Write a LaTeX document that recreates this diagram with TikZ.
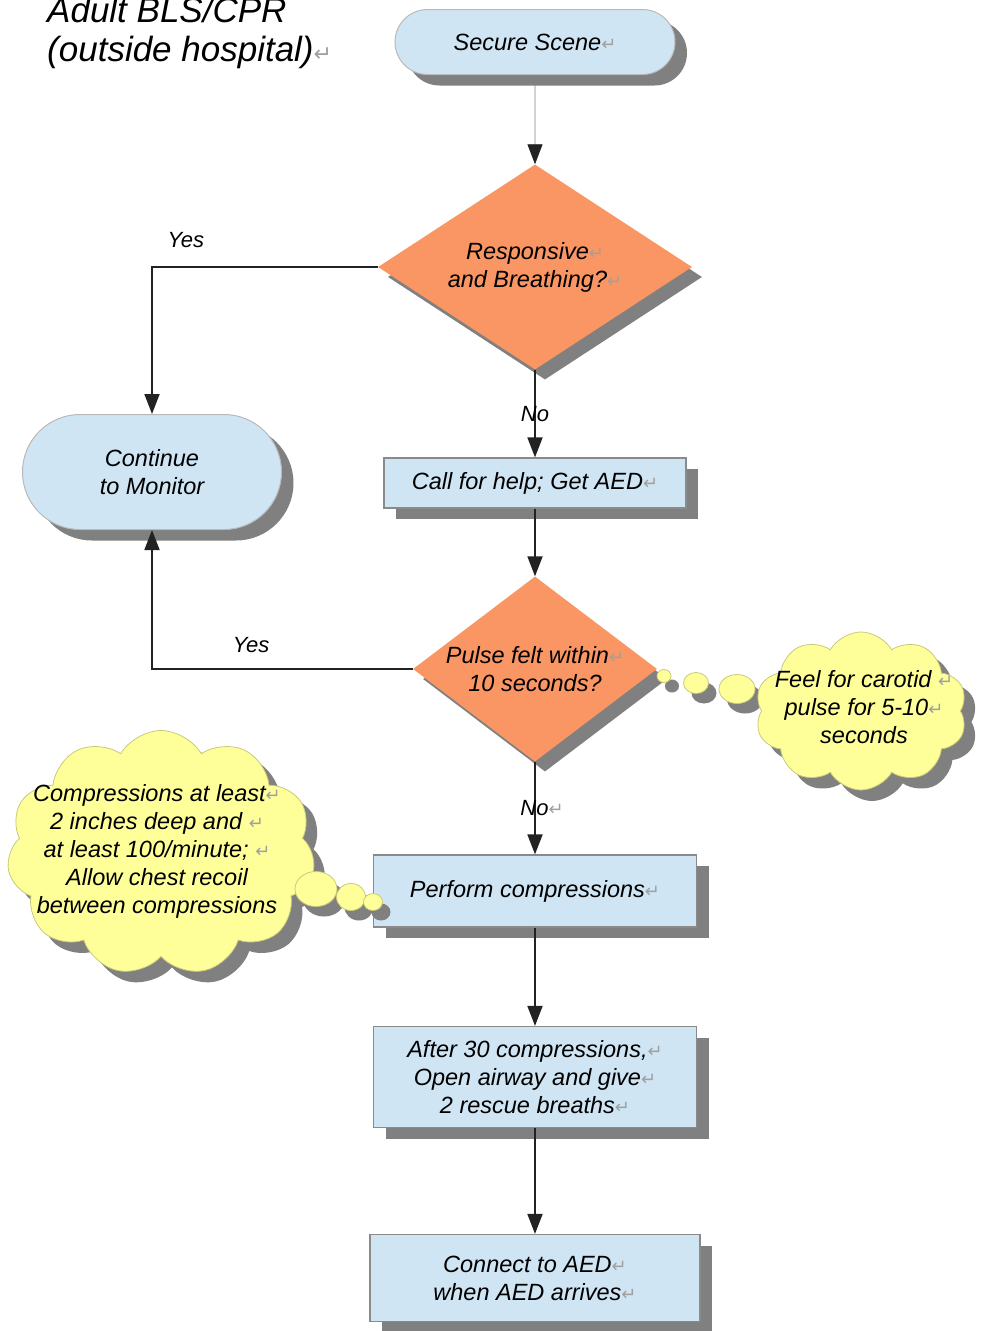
\documentclass[tikz,border=0pt]{standalone}
\usepackage{fontspec}
\setmainfont{Liberation Sans}
\newfontfamily\symfont{DejaVu Sans}
\usetikzlibrary{shapes.geometric,shapes.misc,shapes.symbols,shadows,arrows.meta}
\definecolor{boxblue}{HTML}{CFE5F3}
\definecolor{boxline}{HTML}{8A8A8A}
\definecolor{diaorange}{HTML}{FA9664}
\definecolor{cloudyellow}{HTML}{FFFF99}
\definecolor{cloudline}{HTML}{C9C97A}
\definecolor{shgray}{HTML}{808080}
\definecolor{retgray}{HTML}{A0A0A0}
\definecolor{conn}{HTML}{222222}
\newcommand\rt[1][18]{{\symfont\color{retgray}\fontsize{#1}{#1}\selectfont\char"21B5}}
\begin{document}
\begin{tikzpicture}[x=1pt,y=-1pt,
  txt/.style={font=\fontsize{23.5}{28}\selectfont\itshape, align=center, text=black},
  shad/.style={general shadow={fill=shgray, shadow xshift=12pt, shadow yshift=-11pt}},
  term/.style={rounded rectangle, fill=boxblue, draw=boxline!60, line width=1pt, shad, txt, inner sep=0pt},
  proc/.style={rectangle, fill=boxblue, draw=boxline, line width=1.2pt, shad, txt, inner sep=0pt},
  dec/.style={diamond, fill=diaorange, inner sep=0pt, general shadow={fill=shgray, shadow xshift=10pt, shadow yshift=-10pt}},
  thought/.style={cloud, cloud puffs=11, cloud puff arc=120, fill=cloudyellow, draw=cloudline, line width=0.8pt, inner sep=0pt, general shadow={fill=shgray, shadow xshift=11pt, shadow yshift=-11pt}},
  bubble/.style={ellipse, fill=cloudyellow, draw=cloudline, line width=0.8pt, inner sep=0pt, general shadow={fill=shgray, shadow xshift=8pt, shadow yshift=-10pt}},
  flow/.style={draw=conn, line width=1.8pt, -{Triangle[width=15pt,length=20pt]}},
  lab/.style={font=\fontsize{22}{26}\selectfont\itshape, text=black, inner sep=0pt},
]
\useasboundingbox (0,0) rectangle (981,1331);

\node[txt, font=\fontsize{35}{39}\selectfont\itshape, align=left, anchor=north west, inner sep=0pt] (title) at (47,-3) {Adult BLS/CPR\\(outside hospital)\rt[22]};

\node[term, minimum width=280pt, minimum height=65pt] (secure) at (535,42) {Secure Scene\rt};
\node[dec, minimum width=314pt, minimum height=205pt, label={[txt]center:{Responsive\rt\\and Breathing?\rt}}] (d1) at (535,267) {};
\node[term, minimum width=259pt, minimum height=115pt] (cont) at (152,472) {Continue\\to Monitor};
\node[proc, minimum width=302pt, minimum height=50pt] (call) at (535,483) {Call for help; Get AED\rt};
\node[dec, minimum width=244pt, minimum height=185pt, label={[txt]center:{Pulse felt within\rt\\10 seconds?}}] (d2) at (535,669) {};
\node[proc, minimum width=323pt, minimum height=72pt] (perf) at (535,891) {Perform compressions\rt};
\node[proc, minimum width=323pt, minimum height=101pt] (after) at (535,1077) {After 30 compressions,\rt\\Open airway and give\rt\\2 rescue breaths\rt};
\node[proc, minimum width=330pt, minimum height=87pt] (aed) at (535,1278) {Connect to AED\rt\\when AED arrives\rt};

% right thought cloud
\node[bubble, minimum width=14pt, minimum height=13pt] (rb1) at (664,676) {};
\node[bubble, minimum width=25pt, minimum height=21pt] (rb2) at (696,683) {};
\node[bubble, minimum width=36pt, minimum height=29pt] (rb3) at (737,689) {};
\node[thought, cloud puffs=10, minimum width=212pt, minimum height=158pt] (rcloud) at (861,711) {};
\node[txt] (rtext) at (864,707) {Feel for carotid \rt\\pulse for 5-10\rt\\seconds};

% left thought cloud
\node[thought, cloud puffs=11, minimum width=308pt, minimum height=245pt] (lcloud) at (161,853) {};
\node[bubble, minimum width=42pt, minimum height=35pt] (lb1) at (316,889) {};
\node[bubble, minimum width=29pt, minimum height=27pt] (lb2) at (351,897) {};
\node[bubble, minimum width=19pt, minimum height=17pt] (lb3) at (373,902) {};
\node[txt] (ltext) at (157,851) {Compressions at least\rt\\2 inches deep and \rt\\at least 100/minute; \rt\\Allow chest recoil\\between compressions};

% connectors
\draw[draw=gray, line width=0.8pt, -{Triangle[width=15pt,length=20pt,color=conn]}] (secure) -- (d1);
\draw[flow] (d1.west) -| (cont.north) node[lab, pos=0.425, anchor=south, yshift=18pt]{Yes};
\draw[flow] (d1.south) -- (call.north) node[lab, midway]{No};
\draw[flow] (call) -- (d2);
\draw[flow] (d2.west) -| (cont.south) node[lab, pos=0.31, anchor=south, yshift=15pt]{Yes};
\draw[flow] (d2.south) -- (perf.north) node[lab, midway, xshift=7pt]{No\rt};
\draw[flow] (perf) -- (after);
\draw[flow] (after) -- (aed);
\end{tikzpicture}
\end{document}
